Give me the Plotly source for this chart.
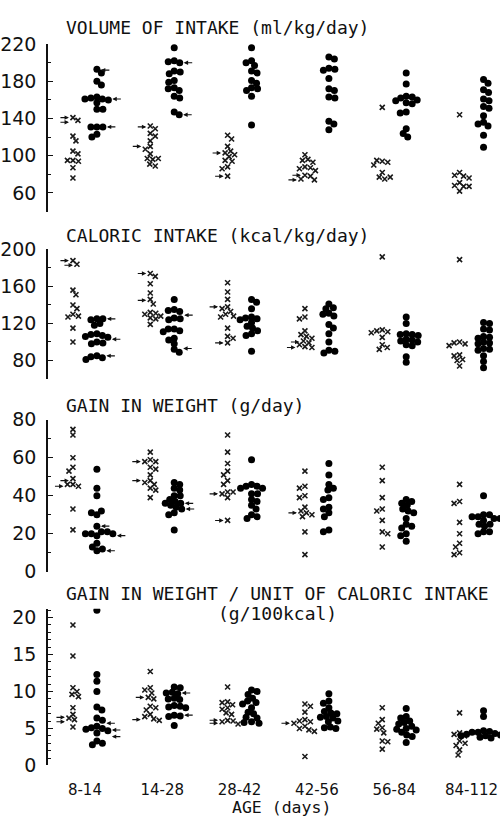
import plotly.graph_objects as go

# Age groups along the horizontal axis
categories = ["8-14", "14-28", "28-42", "42-56", "56-84", "84-112"]

# Volume of intake (ml/kg/day): crosses and dots per age group
volume_cross = [
    [141, 138, 121, 116, 105, 102, 95, 94, 95, 87, 76],
    [132, 129, 124, 121, 116, 110, 107, 102, 97, 96, 97, 91, 89],
    [122, 118, 110, 105, 103, 101, 99, 95, 94, 88, 86, 78],
    [101, 96, 95, 93, 88, 87, 86, 84, 79, 78, 75, 74],
    [152, 94, 95, 93, 90, 82, 77, 75, 77],
    [144, 82, 79, 78, 76, 71, 68, 67, 67, 62],
]
volume_dot = [
    [193, 189, 180, 176, 163, 161, 162, 160, 161, 157, 150, 150, 131, 131, 131, 123, 120],
    [216, 202, 201, 200, 191, 190, 188, 181, 179, 173, 172, 170, 164, 162, 147, 144],
    [216, 202, 200, 197, 191, 189, 181, 178, 173, 172, 170, 164, 133],
    [206, 204, 194, 193, 192, 183, 172, 170, 163, 162, 137, 134, 128],
    [189, 177, 164, 163, 162, 160, 159, 157, 156, 147, 146, 129, 124, 120],
    [182, 178, 171, 168, 161, 159, 153, 151, 143, 136, 134, 132, 122, 109],
]
volume_arrows = [(0, 141, "x"), (0, 136, "x"), (0, 192, "o"), (0, 161, "o"), (0, 131, "o"),
                 (1, 131, "x"), (1, 110, "x"), (1, 200, "o"), (1, 144, "o"),
                 (2, 103, "x"), (2, 78, "x"), (3, 79, "x"), (3, 74, "x")]

# Caloric intake (kcal/kg/day)
caloric_cross = [
    [188, 184, 156, 151, 140, 136, 130, 128, 127, 115, 100],
    [174, 171, 163, 153, 146, 141, 132, 131, 130, 128, 126, 125, 119],
    [164, 154, 146, 138, 136, 133, 130, 128, 127, 115, 106, 104, 99],
    [136, 127, 125, 112, 108, 106, 104, 101, 99, 97, 95, 94],
    [192, 113, 112, 111, 110, 105, 97, 94, 92],
    [189, 100, 99, 98, 96, 86, 85, 81, 80, 74],
]
caloric_dot = [
    [125, 125, 124, 120, 118, 109, 108, 107, 106, 105, 100, 99, 98, 85, 84, 83, 81],
    [146, 135, 134, 133, 126, 125, 124, 114, 114, 112, 111, 104, 102, 98, 92, 89],
    [146, 143, 136, 127, 126, 125, 124, 121, 117, 115, 112, 109, 107, 90],
    [141, 137, 136, 131, 130, 128, 119, 115, 109, 100, 91, 90, 88],
    [127, 120, 109, 108, 108, 107, 103, 102, 101, 100, 97, 96, 84, 78],
    [121, 120, 114, 113, 106, 105, 104, 100, 99, 98, 93, 92, 91, 85, 79, 72],
]
caloric_arrows = [(0, 188, "x"), (0, 183, "x"), (0, 125, "o"), (0, 103, "o"), (0, 85, "o"),
                  (1, 174, "x"), (1, 145, "x"), (1, 129, "o"), (1, 93, "o"),
                  (2, 138, "x"), (2, 99, "x"), (3, 100, "x"), (3, 94, "x")]

# Gain in weight (g/day)
gain_cross = [
    [75, 72, 60, 55, 53, 49, 46, 45, 46, 33, 22],
    [63, 59, 58, 58, 55, 54, 51, 48, 47, 46, 44, 43, 39],
    [72, 63, 57, 53, 51, 48, 46, 42, 41, 42, 39, 27],
    [53, 45, 44, 40, 39, 34, 32, 31, 30, 29, 21, 9],
    [55, 48, 39, 33, 32, 27, 21, 20, 13],
    [46, 37, 36, 26, 20, 15, 13, 10, 9],
]
gain_dot = [
    [54, 44, 40, 30, 31, 32, 24, 19, 20, 21, 21, 20, 20, 15, 11, 12, 13],
    [47, 46, 44, 43, 40, 40, 38, 37, 36, 36, 35, 34, 33, 31, 30, 22],
    [59, 46, 45, 45, 44, 44, 41, 41, 38, 37, 35, 33, 30, 29, 28],
    [57, 51, 46, 44, 43, 39, 38, 34, 33, 31, 29, 22, 21],
    [38, 37, 36, 35, 33, 32, 31, 28, 25, 24, 23, 20, 19, 16],
    [40, 30, 29, 30, 28, 27, 29, 28, 25, 24, 25, 21, 20, 21],
]
gain_arrows = [(0, 48, "x"), (0, 45, "x"), (0, 24, "o"), (0, 19, "o"), (0, 11, "o"),
               (1, 58, "x"), (1, 48, "x"), (1, 36, "o"), (1, 33, "o"),
               (2, 41, "x"), (2, 27, "x"), (3, 31, "x")]

# Gain in weight per unit of caloric intake (g/100 kcal)
efficiency_cross = [
    [19.0, 14.8, 10.5, 10.0, 9.6, 9.3, 7.8, 6.9, 6.4, 6.2, 5.2],
    [12.7, 10.5, 10.2, 9.8, 9.2, 9.0, 8.0, 7.8, 7.5, 6.9, 6.6, 6.3, 6.1],
    [10.6, 8.6, 8.5, 8.2, 7.8, 7.6, 7.1, 6.9, 6.1, 6.0, 5.9, 5.6],
    [8.3, 8.0, 7.2, 6.2, 6.0, 5.9, 5.7, 5.3, 5.0, 4.8, 4.6, 1.2],
    [7.8, 6.2, 5.7, 5.1, 4.9, 4.4, 3.3, 3.2, 2.2],
    [7.1, 4.4, 4.2, 4.0, 3.3, 3.0, 2.7, 2.1, 1.4],
]
efficiency_dot = [
    [21.0, 12.3, 11.4, 10.0, 7.9, 7.5, 6.4, 6.1, 5.3, 5.0, 5.1, 4.9, 4.7, 4.4, 3.3, 3.0, 2.8],
    [10.6, 10.5, 9.9, 9.7, 9.8, 9.1, 9.0, 8.9, 8.1, 8.0, 7.9, 7.8, 6.8, 6.7, 6.6, 5.4],
    [10.2, 10.0, 9.6, 9.1, 8.7, 8.5, 8.3, 7.8, 7.2, 7.0, 6.5, 6.4, 5.9, 5.8, 5.7],
    [9.7, 8.7, 8.4, 7.8, 7.3, 7.1, 7.0, 6.6, 6.5, 6.4, 6.0, 5.9, 5.2, 5.1, 5.0],
    [7.7, 6.6, 6.4, 6.0, 5.8, 5.6, 5.3, 5.0, 4.9, 4.8, 4.5, 4.1, 3.9, 3.1],
    [7.4, 6.6, 4.7, 4.6, 4.5, 4.5, 4.3, 4.2, 4.1, 4.0, 4.0, 3.8, 3.7, 3.9],
]
efficiency_arrows = [(0, 6.5, "x"), (0, 5.9, "x"), (0, 5.7, "o"), (0, 4.8, "o"), (0, 3.9, "o"),
                     (1, 9.2, "x"), (1, 6.2, "x"), (1, 9.8, "o"), (1, 6.8, "o"),
                     (2, 6.1, "x"), (2, 5.7, "x"), (3, 5.7, "x")]

# ---- page geometry (pixels) ----
FIG_W, FIG_H = 503, 828
AXIS_LEFT_PX, AXIS_RIGHT_PX = 47, 500
FIRST_CAT_PX, CAT_STEP_PX = 84, 77.5
GROUP_SHIFT_PX = 12
SANS = "DejaVu Sans"
LETTERING = "DejaVu Sans Mono"   # evenly spaced stencil-like lettering

x_lo = (AXIS_LEFT_PX - FIRST_CAT_PX) / CAT_STEP_PX
x_hi = (AXIS_RIGHT_PX - FIRST_CAT_PX) / CAT_STEP_PX
shift = GROUP_SHIFT_PX / CAT_STEP_PX

panels = [
    dict(titles=[("VOLUME OF INTAKE (ml/kg/day)", 63, 17, "left")],
         cross=volume_cross, dot=volume_dot, arrows=volume_arrows,
         yrange=(40, 220), top=34, bottom=206, tick0=60, dtick=40, minor=20),
    dict(titles=[("CALORIC INTAKE (kcal/kg/day)", 63, 231, "left")],
         cross=caloric_cross, dot=caloric_dot, arrows=caloric_arrows,
         yrange=(60, 200), top=245, bottom=378, tick0=80, dtick=40, minor=20),
    dict(titles=[("GAIN IN WEIGHT (g/day)", 63, 405, "left")],
         cross=gain_cross, dot=gain_dot, arrows=gain_arrows,
         yrange=(0, 80), top=420, bottom=576, tick0=0, dtick=20, minor=10),
    dict(titles=[("GAIN IN WEIGHT / UNIT OF CALORIC INTAKE", 63, 598, "left"),
                 ("(g/100kcal)", 277, 619, "center")],
         cross=efficiency_cross, dot=efficiency_dot, arrows=efficiency_arrows,
         yrange=(0, 21.2), top=614, bottom=775, tick0=0, dtick=5, minor=1),
]


def swarm(values, ppu_y, gap):
    """Horizontal pixel offsets so that marks of similar value do not overlap."""
    placed, offsets = [], []
    for n, v in enumerate(values):
        y = v * ppu_y
        s = 0.0
        while True:
            cands = (0.0,) if s == 0 else ((s, -s) if n % 2 else (-s, s))
            hit = None
            for c in cands:
                if all((c - px) ** 2 + (y - py) ** 2 >= gap * gap for px, py in placed):
                    hit = c
                    break
            if hit is not None:
                break
            s += 0.5
        placed.append((hit, y))
        offsets.append(hit)
    return offsets


fig = go.Figure()
annotations = []
layout_axes = {}

for k, p in enumerate(panels, start=1):
    xa = "x" if k == 1 else f"x{k}"
    ya = "y" if k == 1 else f"y{k}"
    lo, hi = p["yrange"]
    ppu = (p["bottom"] - p["top"]) / (hi - lo)

    groups = {}
    for key, side, gap in (("cross", -1, 5.5), ("dot", 1, 5.6)):
        xs, ys, pts = [], [], []
        for i, vals in enumerate(p[key]):
            offs = swarm(vals, ppu, gap)
            cluster = []
            for v, o in zip(vals, offs):
                xv = i + side * shift + o / CAT_STEP_PX
                xs.append(xv)
                ys.append(v)
                cluster.append((xv, v))
            pts.append(cluster)
        groups[key] = pts
        if key == "cross":
            marker = dict(symbol="x-thin", size=5, color="#1a1a1a",
                          line=dict(color="#1a1a1a", width=1.6))
        else:
            marker = dict(symbol="circle", size=7, color="#000", line=dict(width=0))
        fig.add_trace(go.Scatter(x=xs, y=ys, mode="markers", marker=marker,
                                 xaxis=xa, yaxis=ya, showlegend=False,
                                 hoverinfo="skip"))

    # arrows that single out individual infants
    tol = 3.0 / ppu
    for i, v, side in p["arrows"]:
        cluster = groups["cross" if side == "x" else "dot"][i]
        near = min(cluster, key=lambda t: abs(t[1] - v))
        level = [t for t in cluster if abs(t[1] - near[1]) <= tol]
        xt = min(level)[0] if side == "x" else max(level)[0]
        annotations.append(dict(x=xt, y=v, xref=xa, yref=ya, text="", showarrow=True,
                                ax=-14 if side == "x" else 14, ay=0,
                                arrowhead=2, arrowsize=0.8, arrowwidth=1.1,
                                arrowcolor="#111", standoff=4))

    for text, px, py, anchor in p["titles"]:
        annotations.append(dict(text=text, xref="paper", yref="paper",
                                x=(px - AXIS_LEFT_PX) / (AXIS_RIGHT_PX - AXIS_LEFT_PX),
                                y=1 - py / FIG_H, xanchor=anchor, yanchor="middle",
                                showarrow=False,
                                font=dict(family=LETTERING, size=18, color="#111")))

    layout_axes["xaxis" if k == 1 else f"xaxis{k}"] = dict(
        domain=[0, 1], range=[x_lo, x_hi], anchor=ya,
        showline=False, showgrid=False, zeroline=False, ticks="",
        tickmode="array", tickvals=list(range(len(categories))), ticktext=categories,
        showticklabels=(k == len(panels)), ticklabelstandoff=14,
        tickfont=dict(family=SANS, size=15, color="#111"))
    layout_axes["yaxis" if k == 1 else f"yaxis{k}"] = dict(
        domain=[1 - p["bottom"] / FIG_H, 1 - p["top"] / FIG_H],
        range=[lo, hi], anchor=xa,
        showline=True, linecolor="#111", linewidth=1.6,
        showgrid=False, zeroline=False,
        ticks="inside", ticklen=5, tickwidth=1.3, tickcolor="#111",
        tickmode="linear", tick0=p["tick0"], dtick=p["dtick"],
        minor=dict(ticks="inside", dtick=p["minor"], tick0=lo, ticklen=3,
                   tickwidth=1, tickcolor="#111", showgrid=False),
        ticklabelstandoff=6,
        tickfont=dict(family=SANS, size=19, color="#111"))

annotations.append(dict(text="AGE (days)", xref="paper", yref="paper",
                        x=(281 - AXIS_LEFT_PX) / (AXIS_RIGHT_PX - AXIS_LEFT_PX),
                        y=1 - 818 / FIG_H, xanchor="center", yanchor="middle",
                        showarrow=False, font=dict(family=LETTERING, size=16.5, color="#111")))

fig.update_layout(
    width=FIG_W, height=FIG_H, autosize=False,
    margin=dict(l=AXIS_LEFT_PX, r=FIG_W - AXIS_RIGHT_PX, t=0, b=0),
    paper_bgcolor="white", plot_bgcolor="white",
    annotations=annotations, **layout_axes,
)

fig.write_html("out.html")
